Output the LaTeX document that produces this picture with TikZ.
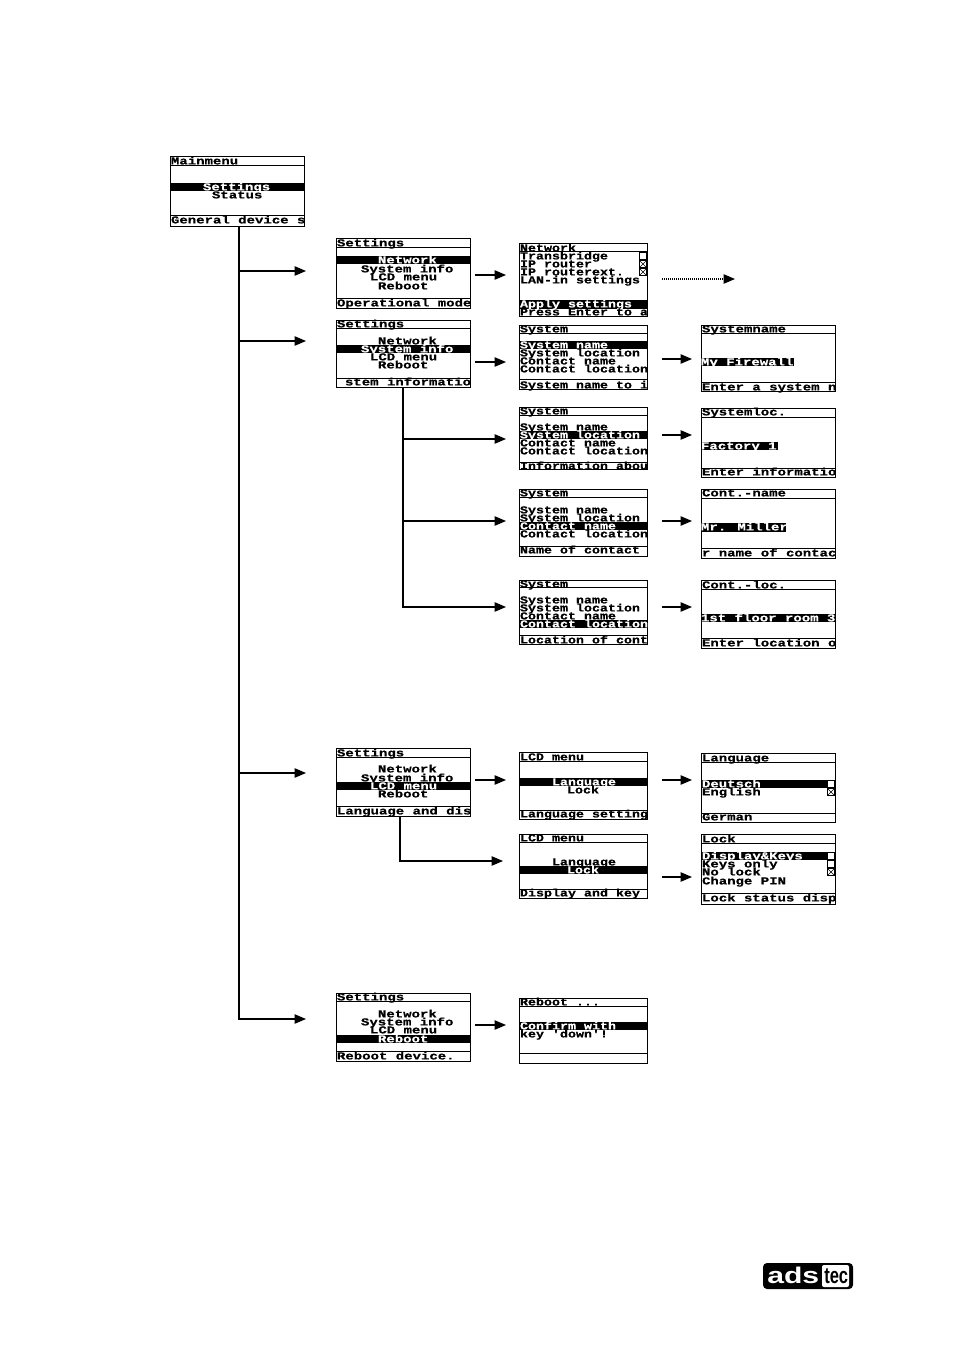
\documentclass[tikz,border=0pt]{standalone}
\usepackage{fontspec}
\usetikzlibrary{arrows.meta}
\newfontfamily\lcdwide[FakeStretch=1.3125,FakeBold=0.5]{Liberation Mono Bold}
\newfontfamily\lcdnarrow[FakeStretch=1.25,FakeBold=0.5]{Liberation Mono Bold}
\newfontfamily\logoA[FakeStretch=1.33]{Liberation Sans Bold}
\newfontfamily\logoB[FakeStretch=0.73]{Liberation Sans Bold}
\newcounter{tn}
\def\lcdsel{\lcdwide}
\tikzset{
  lcd/.style={inner sep=0pt,outer sep=0pt,font=\lcdsel\fontsize{8pt}{8pt}\selectfont},
  screen/.style={draw=black,line width=0.75pt,inner sep=0pt,outer sep=0pt,fill=white},
  rule/.style={black,line width=0.6pt},
  conn/.style={black,line width=0.9pt},
  arr/.style={conn,-{Triangle[length=8.5pt,width=7pt]}},
  dotarr/.style={black,line width=0.9pt,dash pattern=on 0.75pt off 0.75pt,-{Triangle[length=8.5pt,width=7pt]}},
  checkbox/.style={draw=black,fill=white,line width=0.6pt,inner sep=0pt,outer sep=0pt,minimum size=5.6pt}
}
% name, x1, y1, x2, y2, title line, footer line
\newcommand\screenbox[7]{%
  \node[screen,minimum width={(#4-#2)*0.75pt},minimum height={(#5-#3)*0.75pt}] (#1) at ({(#2+#4)/2},{(#3+#5)/2}) {};
  \draw[rule] (#2,#6) -- (#4,#6);
  \draw[rule] (#2,#7) -- (#4,#7);
}
\newcommand\hibar[4]{\fill[black] (#1,#3) rectangle (#2,#4);}
\newcommand\txt[3]{\stepcounter{tn}\node[lcd,anchor=base west] (t\thetn) at ({#1},{#2+3.4}) {#3};}
\newcommand\wtxt[3]{\stepcounter{tn}\node[lcd,text=white,anchor=base west] (t\thetn) at ({#1},{#2+3.4}) {#3};}
\newcommand\ebox[2]{\stepcounter{tn}\node[checkbox] (t\thetn) at ({#1},{#2}) {};}
\newcommand\xbox[2]{\stepcounter{tn}\node[checkbox] (t\thetn) at ({#1},{#2}) {};
  \draw[black,line width=0.5pt] (t\thetn.north west) -- (t\thetn.south east) (t\thetn.north east) -- (t\thetn.south west);}
% name, x1, y, x2 : short horizontal arrow with free ends
\newcommand\shortarrow[4]{\coordinate (#1a) at (#2,#3); \coordinate (#1b) at (#4,#3); \draw[arr] (#1a) -- (#1b);}
\begin{document}
\begin{tikzpicture}[x=0.75pt,y=-0.75pt]
\path[use as bounding box,fill=white] (0,0) rectangle (954,1350);

% connectors
\coordinate (tr0) at (239,226);
\coordinate (tr1) at (239,271); \coordinate (tr1e) at (306,271);
\coordinate (tr2) at (239,341); \coordinate (tr2e) at (306,341);
\coordinate (tr3) at (239,773); \coordinate (tr3e) at (306,773);
\coordinate (tr4e) at (306,1019);
\draw[arr] (tr0) |- (tr4e);
\draw[arr] (tr1) -- (tr1e);
\draw[arr] (tr2) -- (tr2e);
\draw[arr] (tr3) -- (tr3e);

\coordinate (sa0) at (403,387);
\coordinate (sa1) at (403,439); \coordinate (sa1e) at (506,439);
\coordinate (sa2) at (403,521); \coordinate (sa2e) at (506,521);
\coordinate (sa3e) at (506,607);
\draw[arr] (sa0) |- (sa3e);
\draw[arr] (sa1) -- (sa1e);
\draw[arr] (sa2) -- (sa2e);

\coordinate (lc0) at (400,816); \coordinate (lc1e) at (503,861);
\draw[arr] (lc0) |- (lc1e);

\shortarrow{n1}{475}{275}{506}
\shortarrow{n2}{475}{362}{506}
\shortarrow{n3}{662}{359}{692}
\shortarrow{n4}{662}{435}{692}
\shortarrow{n5}{662}{521}{692}
\shortarrow{n6}{662}{607}{692}
\shortarrow{n7}{475}{780}{506}
\shortarrow{n8}{662}{780}{692}
\shortarrow{n9}{662}{877}{692}
\shortarrow{n10}{475}{1025}{506}
\coordinate (d1a) at (662,279); \coordinate (d1b) at (735,279);
\draw[dotarr] (d1a) -- (d1b);

% Mainmenu
\screenbox{main}{170}{156}{304}{226}{165}{215}
\hibar{170}{304}{183}{191}
\txt{171}{161}{Mainmenu}
\wtxt{203}{187}{Settings}
\txt{212}{195}{Status}
\txt{171}{220}{General device s}

% Settings 1
\screenbox{setA}{336}{238}{470}{308}{247}{298}
\hibar{336}{470}{256}{264}
\txt{337}{243}{Settings}
\wtxt{378}{260}{Network}
\txt{361}{269}{System info}
\txt{370}{277}{LCD menu}
\txt{378}{286}{Reboot}
\txt{337}{303}{Operational mode}

% Settings 2
\screenbox{setB}{336}{320}{470}{387}{328}{378}
\hibar{336}{470}{345}{353}
\txt{337}{324}{Settings}
\txt{378}{341}{Network}
\wtxt{361}{349}{System info}
\txt{370}{357}{LCD menu}
\txt{378}{365}{Reboot}
\txt{345}{382}{stem informatio}

% Network
\def\lcdsel{\lcdnarrow}
\screenbox{net}{519}{243}{647}{316}{251}{308}
\hibar{519}{647}{300}{308}
\txt{520}{248}{Network}
\txt{520}{256}{Transbridge}
\txt{520}{264}{IP router}
\txt{520}{272}{IP routerext.}
\txt{520}{280}{LAN-in settings}
\wtxt{520}{304}{Apply settings}
\txt{520}{312}{Press Enter to a}
\ebox{643}{256}
\xbox{643}{264}
\xbox{643}{272}

% System 1
\screenbox{sysA}{519}{325}{647}{389}{333}{379}
\hibar{519}{647}{341}{349}
\txt{520}{329}{System}
\wtxt{520}{345}{System name}
\txt{520}{353}{System location}
\txt{520}{361}{Contact name}
\txt{520}{369}{Contact location}
\txt{520}{385}{System name to i}

% System 2
\screenbox{sysB}{519}{407}{647}{469}{415}{462}
\hibar{519}{647}{431}{439}
\txt{520}{411}{System}
\txt{520}{427}{System name}
\wtxt{520}{435}{System location}
\txt{520}{443}{Contact name}
\txt{520}{451}{Contact location}
\txt{520}{466}{Information abou}

% System 3
\screenbox{sysC}{519}{489}{647}{556}{497}{546}
\hibar{519}{647}{522}{530}
\txt{520}{493}{System}
\txt{520}{510}{System name}
\txt{520}{518}{System location}
\wtxt{520}{526}{Contact name}
\txt{520}{534}{Contact location}
\txt{520}{550}{Name of contact}

% System 4
\screenbox{sysD}{519}{580}{647}{644}{587}{635}
\hibar{519}{647}{620}{628}
\txt{520}{584}{System}
\txt{520}{600}{System name}
\txt{520}{608}{System location}
\txt{520}{616}{Contact name}
\wtxt{520}{624}{Contact location}
\txt{520}{640}{Location of cont}

% LCD 1
\screenbox{lcdA}{519}{752}{647}{819}{761}{810}
\hibar{519}{647}{778}{786}
\txt{520}{757}{LCD menu}
\wtxt{552}{782}{Language}
\txt{567}{790}{Lock}
\txt{520}{814}{Language setting}

% LCD 2
\screenbox{lcdB}{519}{834}{647}{898}{842}{889}
\hibar{519}{647}{866}{874}
\txt{520}{838}{LCD menu}
\txt{552}{862}{Language}
\wtxt{567}{870}{Lock}
\txt{520}{893}{Display and key}

% Reboot
\screenbox{reb}{519}{998}{647}{1063}{1006}{1053}
\hibar{519}{647}{1022}{1030}
\txt{520}{1002}{Reboot ...}
\wtxt{520}{1026}{Confirm with}
\txt{520}{1034}{key 'down'!}

\def\lcdsel{\lcdwide}
% Systemname
\screenbox{valA}{701}{325}{835}{391}{333}{382}
\hibar{701}{794}{358}{366}
\txt{702}{329}{Systemname}
\wtxt{701}{362}{My Firewall}
\txt{702}{387}{Enter a system n}

% Systemloc
\screenbox{valB}{701}{408}{835}{477}{417}{468}
\hibar{701}{778}{442}{450}
\txt{702}{412}{Systemloc.}
\wtxt{701}{446}{Factory 1}
\txt{702}{472}{Enter informatio}

% Cont.-name
\screenbox{valC}{701}{489}{835}{558}{498}{548}
\hibar{701}{786}{523}{532}
\txt{702}{493}{Cont.-name}
\wtxt{701}{527}{Mr. Miller}
\txt{702}{553}{r name of contac}

% Cont.-loc
\screenbox{valD}{701}{580}{835}{648}{589}{638}
\hibar{701}{835}{614}{622}
\txt{702}{585}{Cont.-loc.}
\wtxt{701}{618}{1st floor room 3}
\txt{702}{643}{Enter location o}

% Settings 3
\screenbox{setC}{336}{748}{470}{816}{757}{806}
\hibar{336}{470}{782}{790}
\txt{337}{753}{Settings}
\txt{378}{769}{Network}
\txt{361}{778}{System info}
\wtxt{370}{786}{LCD menu}
\txt{378}{794}{Reboot}
\txt{337}{811}{Language and dis}

% Language
\screenbox{langS}{701}{753}{835}{822}{762}{813}
\hibar{701}{835}{780}{788}
\txt{702}{758}{Language}
\wtxt{702}{784}{Deutsch}
\txt{702}{792}{English}
\txt{702}{817}{German}
\ebox{831}{784}
\xbox{831}{792}

% Lock
\screenbox{lockS}{701}{834}{835}{904}{843}{893}
\hibar{701}{835}{852}{860}
\txt{702}{839}{Lock}
\wtxt{702}{856}{Display\&Keys}
\txt{702}{864}{Keys only}
\txt{702}{872}{No lock}
\txt{702}{881}{Change PIN}
\txt{702}{898}{Lock status disp}
\ebox{831}{856}
\ebox{831}{864}
\xbox{831}{872}

% Settings 4
\screenbox{setD}{336}{993}{470}{1061}{1001}{1051}
\hibar{336}{470}{1035}{1043}
\txt{337}{997}{Settings}
\txt{378}{1014}{Network}
\txt{361}{1022}{System info}
\txt{370}{1030}{LCD menu}
\wtxt{378}{1039}{Reboot}
\txt{337}{1056}{Reboot device.}

% Logo
\fill[black,rounded corners=3pt] (763,1263) rectangle (853,1289);
\fill[white,rounded corners=1.5pt] (822,1265) -- (822,1287) -- (849,1287) -- (849,1265) -- cycle;
\node[inner sep=0pt,text=white,anchor=base west,font=\logoA\fontsize{17pt}{17pt}\selectfont] (logoads) at (767,1283) {ads};
\node[inner sep=0pt,text=black,anchor=base west,font=\logoB\fontsize{17pt}{17pt}\selectfont] (logotec) at (824,1283) {tec};
\end{tikzpicture}
\end{document}
